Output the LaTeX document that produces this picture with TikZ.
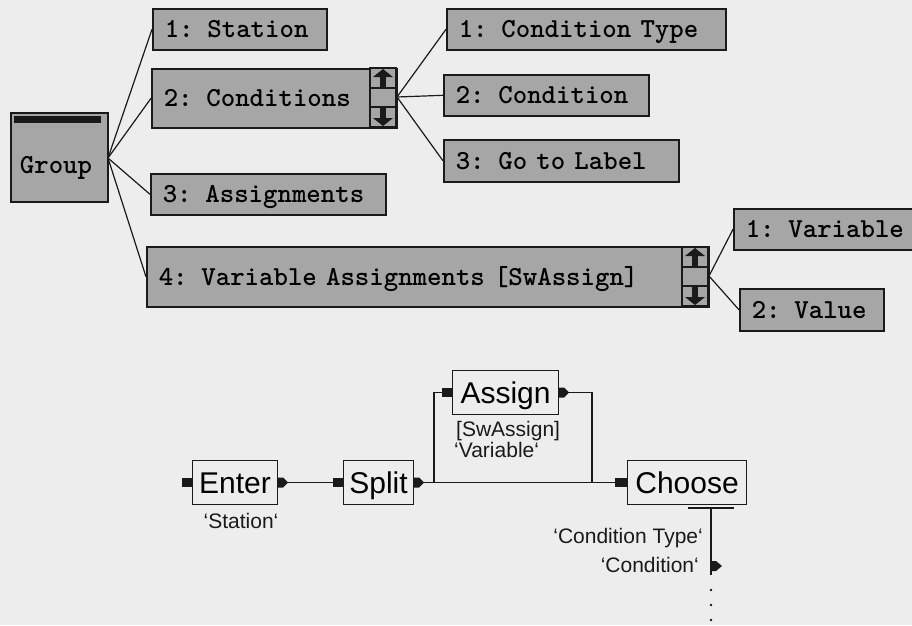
\documentclass[tikz,border=0pt]{standalone}
\usepackage{fontspec}
\setsansfont{Liberation Sans}
\usetikzlibrary{calc}

\definecolor{paper}{HTML}{EDEDED}
\definecolor{boxgray}{HTML}{A6A6A6}
\definecolor{ink}{HTML}{1A1A1A}

\newcommand\treefont{\ttfamily\bfseries\fontsize{27.5}{31}\selectfont}
\newcommand\flowfont{\sffamily\fontsize{30}{34}\selectfont}
\newcommand\notefont{\sffamily\fontsize{21}{24}\selectfont}

\tikzset{
  treebox/.style={draw=ink, line width=1.6pt, fill=boxgray, anchor=north west,
    font=\treefont, align=left, inner xsep=12pt, inner ysep=0pt,
    text height=16.5pt, text depth=0pt},
  treeline/.style={draw=ink, line width=1.2pt},
  flowbox/.style={draw=ink, line width=1.1pt, anchor=north west, font=\flowfont,
    inner sep=0pt, text height=21.5pt, text depth=0pt},
  inport/.style={fill=ink, inner sep=0pt, minimum width=10pt, minimum height=9pt, anchor=east},
  flowline/.style={draw=ink, line width=1.1pt},
  note/.style={font=\notefont, inner sep=0pt, text=ink},
  pics/scrollstrip/.style={code={
    % gray strip with black frame, dividers, shafts and arrowheads
    \fill[boxgray] (0,0) rectangle (26,59);
    \draw[ink, line width=1.4pt] (0,0) rectangle (26,59);
    \draw[ink, line width=1.6pt] (0,20) -- (26,20) (0,39) -- (26,39);
    \fill[ink] (10,6) rectangle (16,20);
    \fill[ink] (3,9) -- (13,1) -- (23,9) -- cycle;
    \fill[ink] (10,39) rectangle (16,53);
    \fill[ink] (3,50) -- (13,58) -- (23,50) -- cycle;
  }}
}

\begin{document}
\begin{tikzpicture}[x=1pt, y=-1pt]
  \useasboundingbox (0,0) rectangle (912,625);
  \clip (0,0) rectangle (912,625);
  \fill[paper] (0,0) rectangle (912,625);

  % ---------------- structure tree ----------------
  \node[draw=ink, line width=1.6pt, fill=boxgray, anchor=north west,
        minimum width=97pt, minimum height=89pt, inner sep=0pt] (group) at (10,112) {};
  \fill[ink] (14,116) rectangle (101,123);
  \node[font=\treefont, inner sep=0pt, text height=16.5pt, text depth=0pt] (groupLabel) at (56,165) {Group};

  \node[treebox, text width=150pt, minimum height=41pt] (station) at (152,8) {1: Station};
  \node[treebox, text width=221pt, minimum height=59pt] (conds) at (151,68) {2: Conditions};
  \node[treebox, text width=211pt, minimum height=41pt] (assigns) at (150,173) {3: Assignments};
  \node[treebox, text width=538pt, minimum height=60pt] (varassign) at (146,246) {4: Variable Assignments [SwAssign]};

  \node[treebox, text width=255pt, minimum height=41pt] (ctype) at (446,8) {1: Condition Type};
  \node[treebox, text width=181pt, minimum height=41pt] (cond) at (443,74) {2: Condition};
  \node[treebox, text width=211pt, minimum height=42pt] (gotolabel) at (443,139) {3: Go to Label};

  \node[treebox, text width=176pt, minimum height=41pt] (variable) at (733,208) {1: Variable};
  \node[treebox, text width=120pt, minimum height=42pt] (value) at (739,288) {2: Value};

  \pic at (370,68) {scrollstrip};
  \pic at (682,247) {scrollstrip};

  \coordinate (groupOut) at (108,158);
  \coordinate (condsOut) at (397,97);
  \coordinate (varOut) at (709,276);

  \draw[treeline] (groupOut) -- (station.west);
  \draw[treeline] (groupOut) -- (conds.west);
  \draw[treeline] (groupOut) -- (assigns.west);
  \draw[treeline] (groupOut) -- (varassign.west);

  \draw[treeline] (condsOut) -- (ctype.west);
  \draw[treeline] (condsOut) -- (cond.west);
  \draw[treeline] (condsOut) -- (gotolabel.west);

  \draw[treeline] (varOut) -- (variable.west);
  \draw[treeline] (varOut) -- (value.west);

  % ---------------- flow diagram ----------------
  \node[flowbox, minimum width=85pt, minimum height=44pt] (enter) at (192,460) {Enter};
  \node[flowbox, minimum width=70pt, minimum height=44pt] (split) at (343,460) {Split};
  \node[flowbox, minimum width=106pt, minimum height=44pt] (assign) at (452,370) {Assign};
  \node[flowbox, minimum width=119pt, minimum height=44pt] (choose) at (627,460) {Choose};

  \node[inport] (enterIn) at (enter.west) {};
  \node[inport] (splitIn) at (split.west) {};
  \node[inport] (assignIn) at (assign.west) {};
  \node[inport, minimum width=12pt] (chooseIn) at (choose.west) {};

  % output ports: short black arrow stubs on the right edges
  \foreach \b in {enter, split, assign} {
    \fill[ink] ([yshift=5pt]\b.east) -- ([xshift=5pt,yshift=5pt]\b.east)
      -- ([xshift=10pt]\b.east) -- ([xshift=5pt,yshift=-5pt]\b.east)
      -- ([yshift=-5pt]\b.east) -- cycle;
    \coordinate (\b Out) at ([xshift=10pt]\b.east);
  }

  \coordinate (forkL) at (434,482);
  \coordinate (forkR) at (592,482);

  \draw[flowline] (enterOut) -- (splitIn.west);
  \draw[flowline] (splitOut) -- (chooseIn.west);
  \draw[flowline] (assignIn.west) -| (forkL);
  \draw[flowline] (assignOut) -| (forkR);

  % branch leaving Choose downwards
  \coordinate (chooseTap) at (711,508);
  \coordinate (chooseEnd) at (711,575);
  \draw[flowline] (688,508) -- (734,508);
  \draw[flowline] (chooseTap) -- (chooseEnd);
  \fill[ink] (712,561) -- (716,561) -- (722,566) -- (716,571) -- (712,571) -- cycle;
  \foreach \y in {590,605,620} \fill[ink] (711,\y) circle (1.3pt);

  \node[note, anchor=base] (stationNote) at (241,528) {`Station`};
  \node[note, anchor=base west] (swNote) at (456,436) {[SwAssign]};
  \node[note, anchor=base west] (varNote) at (454,457) {`Variable`};
  \node[note, anchor=base east] (ctypeNote) at (703,543) {`Condition Type`};
  \node[note, anchor=base east] (condNote) at (699,572) {`Condition`};
\end{tikzpicture}
\end{document}
